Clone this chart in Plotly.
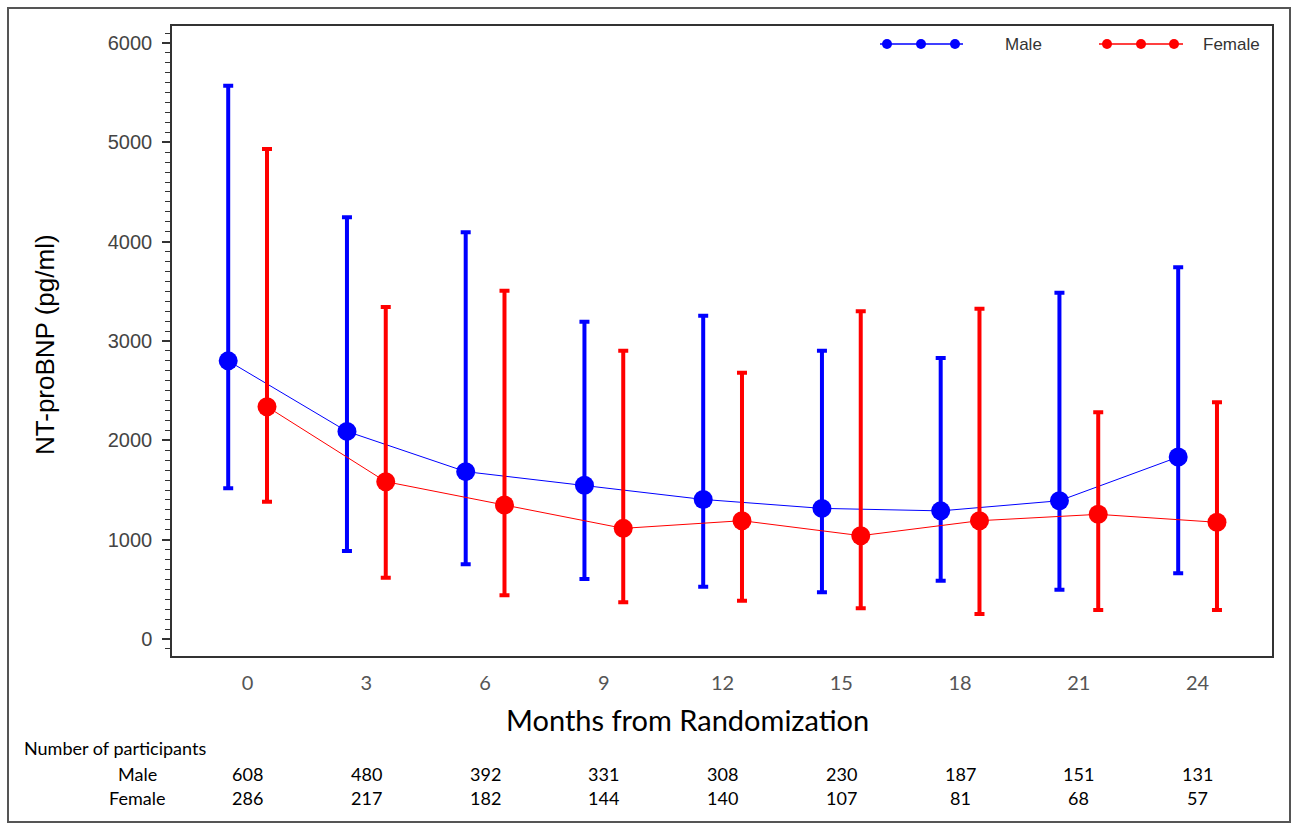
import plotly.graph_objects as go

months = [0, 3, 6, 9, 12, 15, 18, 21, 24]

male_mean = [2800, 2090, 1685, 1547, 1405, 1315, 1290, 1392, 1832]
male_upper = [5570, 4245, 4094, 3194, 3255, 2902, 2829, 3486, 3742]
male_lower = [1517, 886, 752, 604, 527, 470, 587, 496, 661]

female_mean = [2339, 1584, 1349, 1114, 1191, 1040, 1191, 1255, 1175]
female_upper = [4933, 3342, 3507, 2902, 2681, 3299, 3325, 2282, 2383]
female_lower = [1382, 617, 440, 369, 386, 309, 252, 292, 292]

n_male = [608, 480, 392, 331, 308, 230, 187, 151, 131]
n_female = [286, 217, 182, 144, 140, 107, 81, 68, 57]

BLUE = "#0000FF"
RED = "#FF0000"
OFFSET = 0.49

# plot area in pixels
L, R, T, B = 172, 1272, 26, 656
W, H = R - L, B - T


def px(x):
    return (x - L) / W


def py(y):
    return (B - y) / H


fig = go.Figure()


def add_series(name, color, mean, upper, lower, shift):
    xs = [m + shift for m in months]
    fig.add_trace(go.Scatter(
        x=xs, y=mean, name=name, mode="lines+markers",
        line=dict(color=color, width=1),
        marker=dict(color=color, size=19, symbol="circle"),
        error_y=dict(
            type="data", symmetric=False,
            array=[u - m for u, m in zip(upper, mean)],
            arrayminus=[m - l for m, l in zip(mean, lower)],
            color=color, thickness=4, width=5,
        ),
        showlegend=False,
    ))


add_series("Male", BLUE, male_mean, male_upper, male_lower, -OFFSET)
add_series("Female", RED, female_mean, female_upper, female_lower, OFFSET)

shapes = []
annotations = []

# outer frame
shapes.append(dict(type="rect", xref="paper", yref="paper",
                   x0=px(8), x1=px(1290), y0=py(822), y1=py(8),
                   line=dict(color="#555555", width=2)))

# custom legend (line with three markers)
def legend_entry(x0, x1, dots, color, label, tx):
    yy = 44
    shapes.append(dict(type="line", xref="paper", yref="paper",
                       x0=px(x0), x1=px(x1), y0=py(yy), y1=py(yy),
                       line=dict(color=color, width=1.5)))
    r = 5
    for d in dots:
        shapes.append(dict(type="circle", xref="paper", yref="paper",
                           x0=px(d - r), x1=px(d + r), y0=py(yy + r), y1=py(yy - r),
                           fillcolor=color, line=dict(color=color, width=0)))
    annotations.append(dict(xref="paper", yref="paper", x=px(tx), y=py(yy),
                            text=label, showarrow=False, xanchor="left", yanchor="middle",
                            font=dict(family="Liberation Sans, Arial", size=17, color="#333333")))


legend_entry(880, 963, [887, 921, 955], BLUE, "Male", 1003)
legend_entry(1099, 1183, [1107, 1141, 1174], RED, "Female", 1201)

# axis titles
annotations.append(dict(xref="paper", yref="paper", x=px(45), y=py(345),
                        text="NT-proBNP (pg/ml)", showarrow=False, textangle=-90,
                        xanchor="center", yanchor="middle",
                        font=dict(family="Liberation Sans, Arial", size=26, color="#000000")))
annotations.append(dict(xref="paper", yref="paper", x=px(687), y=py(719),
                        text="Months from Randomization", showarrow=False,
                        xanchor="center", yanchor="middle",
                        font=dict(family="Lato", size=29, color="#000000")))

# participants table
tfont = dict(family="Lato", size=18, color="#000000")
annotations.append(dict(xref="paper", yref="paper", x=px(22), y=py(748),
                        text="Number of participants", showarrow=False,
                        xanchor="left", yanchor="middle", font=tfont))
annotations.append(dict(xref="paper", yref="paper", x=px(137), y=py(774),
                        text="Male", showarrow=False, xanchor="center", yanchor="middle", font=tfont))
annotations.append(dict(xref="paper", yref="paper", x=px(137), y=py(798),
                        text="Female", showarrow=False, xanchor="center", yanchor="middle", font=tfont))
for m, nm, nf in zip(months, n_male, n_female):
    annotations.append(dict(xref="x", yref="paper", x=m, y=py(774), text=str(nm),
                            showarrow=False, xanchor="center", yanchor="middle", font=tfont))
    annotations.append(dict(xref="x", yref="paper", x=m, y=py(798), text=str(nf),
                            showarrow=False, xanchor="center", yanchor="middle", font=tfont))

fig.update_layout(
    width=1293, height=827,
    margin=dict(l=L, r=1293 - R, t=T, b=827 - B),
    plot_bgcolor="white", paper_bgcolor="white",
    shapes=shapes, annotations=annotations,
    showlegend=False,
    xaxis=dict(
        range=[-1.91, 25.88], tickvals=months, ticktext=[str(m) for m in months],
        showline=True, mirror=True, linecolor="#333333", linewidth=1.5,
        showgrid=False, zeroline=False, ticks="", ticklabelstandoff=8,
        tickfont=dict(family="Lato", size=20, color="#555555"),
    ),
    yaxis=dict(
        range=[-171, 6171], tickvals=[0, 1000, 2000, 3000, 4000, 5000, 6000],
        showline=True, mirror=True, linecolor="#333333", linewidth=1.5,
        showgrid=False, zeroline=False, ticks="outside", ticklen=8, tickwidth=1.5,
        tickcolor="#333333", ticklabelstandoff=6,
        minor=dict(dtick=100, ticks="outside", ticklen=5, tickwidth=1.2, tickcolor="#333333", showgrid=False),
        tickfont=dict(family="Liberation Sans, Arial", size=20, color="#444444"),
    ),
)

fig.write_html("out.html")
